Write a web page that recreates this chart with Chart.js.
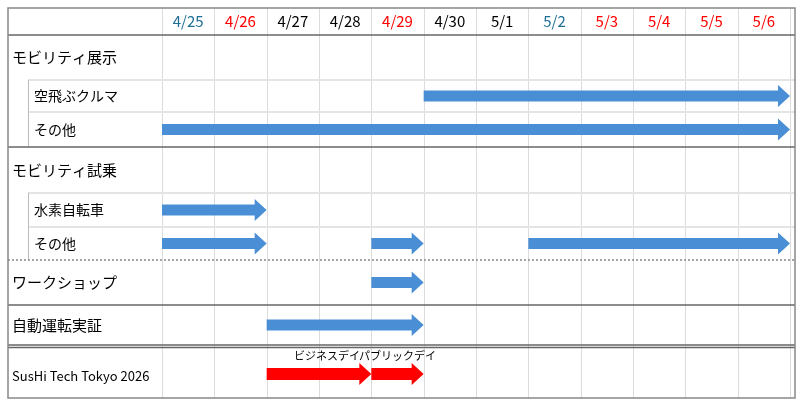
<!DOCTYPE html><html><head><meta charset="utf-8">
<script src="https://cdn.jsdelivr.net/npm/chart.js@4"></script>
<style>html,body{margin:0;background:#fff}</style></head><body>
<canvas id="c" width="800" height="407"></canvas>
<script>
const days=['4/25','4/26','4/27','4/28','4/29','4/30','5/1','5/2','5/3','5/4','5/5','5/6'];
const dayColors=['#1F6E96','#FF0000','#000','#000','#FF0000','#000','#000','#1F6E96','#FF0000','#FF0000','#FF0000','#FF0000'];
const rows=['モビリティ展示','空飛ぶクルマ','その他','モビリティ試乗','水素自転車','その他','ワークショップ','自動運転実証','SusHi Tech Tokyo 2026'];
const rowSub=[false,true,true,false,true,true,false,false,false];
// tasks: [rowIndex, startDay, endDay]
const blueTasks=[[1,5,12],[2,0,12],[4,0,2],[5,0,2],[5,4,5],[5,7,12],[6,4,5],[7,2,5]];
const redTasks=[[8,2,4,'ビジネスデイ'],[8,4,5,'パブリックデイ']];
// row boundaries in y units (0 = top of grid)
const rowEdges=[0,45,77,112,158,192,225,270,310,363];
const FONT='"Noto Sans CJK JP","Noto Sans",sans-serif';
function arrow(ctx,x1,x2,y,body,head,hl,color){
  ctx.fillStyle=color;ctx.beginPath();
  ctx.moveTo(x1,y-body/2);ctx.lineTo(x2-hl,y-body/2);ctx.lineTo(x2-hl,y-head/2);ctx.lineTo(x2,y);
  ctx.lineTo(x2-hl,y+head/2);ctx.lineTo(x2-hl,y+body/2);ctx.lineTo(x1,y+body/2);ctx.closePath();ctx.fill();
}
const gantt={id:'gantt',afterDraw(ch){
  const ctx=ch.ctx,xs=ch.scales.x,ys=ch.scales.y;
  const X=v=>xs.getPixelForValue(v),Y=v=>ys.getPixelForValue(v);
  const L=8,R=795,T=8,B=Y(363);
  ctx.save();
  // vertical day lines
  ctx.strokeStyle='#dcdcdc';ctx.lineWidth=1;
  for(let i=0;i<=12;i++){const x=Math.round(X(i))+0.5;ctx.beginPath();ctx.moveTo(x,T);ctx.lineTo(x,B);ctx.stroke();}
  // header
  ctx.font='15px '+FONT;ctx.textAlign='center';ctx.textBaseline='middle';
  days.forEach((d,i)=>{ctx.fillStyle=dayColors[i];ctx.fillText(d,X(i+0.5),21);});
  // row labels and light lines
  for(let r=0;r<rows.length;r++){
    const yc=(Y(rowEdges[r])+Y(rowEdges[r+1]))/2;
    ctx.fillStyle='#000';ctx.textAlign='left';
    ctx.font=(r===8?'13px ':rowSub[r]?'14px ':'15px ')+FONT;
    ctx.fillText(rows[r],rowSub[r]?34:12,yc+(r===8?5:0));
  }
  ctx.strokeStyle='#e4e4e4';ctx.lineWidth=2;
  [1,2,4,5].forEach(r=>{const y=Y(rowEdges[r]);ctx.beginPath();ctx.moveTo(28,y);ctx.lineTo(R,y);ctx.stroke();});
  ctx.strokeStyle='#bbb';ctx.lineWidth=1;
  [[1,3],[4,6]].forEach(([a,b])=>{ctx.beginPath();ctx.moveTo(28.5,Y(rowEdges[a]));ctx.lineTo(28.5,Y(rowEdges[b]));ctx.stroke();});
  // dark separators
  ctx.strokeStyle='#666';ctx.lineWidth=1.5;
  [0,3,7,8].forEach(r=>{const y=Y(rowEdges[r]);ctx.beginPath();ctx.moveTo(L,y);ctx.lineTo(R,y);ctx.stroke();});
  ctx.beginPath();ctx.moveTo(L,Y(rowEdges[8])+2.5);ctx.lineTo(R,Y(rowEdges[8])+2.5);ctx.stroke();
  ctx.setLineDash([2,2]);ctx.strokeStyle='#888';
  ctx.beginPath();ctx.moveTo(L,Y(rowEdges[6]));ctx.lineTo(R,Y(rowEdges[6]));ctx.stroke();ctx.setLineDash([]);
  ctx.strokeStyle='#888';ctx.lineWidth=1.5;ctx.strokeRect(L,T,R-L,B-T);
  // arrows
  blueTasks.forEach(([r,s,e])=>{const yc=(Y(rowEdges[r])+Y(rowEdges[r+1]))/2+(r===1||r===2||r===4||r===5?0:0);
    arrow(ctx,X(s),X(e),yc,11,22,12,'#4A8FD6');});
  redTasks.forEach(([r,s,e,lab])=>{const yc=Y(rowEdges[r])+29;
    arrow(ctx,X(s),X(e),yc,12,22,12,'#FF0000');
    ctx.fillStyle='#000';ctx.font='11px '+FONT;ctx.textAlign='center';ctx.fillText(lab,(X(s)+X(e))/2+(s===2?8:0),yc-18);});
  ctx.restore();
}};
new Chart(document.getElementById('c'),{type:'scatter',data:{datasets:[{data:[]}]},
 options:{responsive:false,animation:false,layout:{padding:{left:162,right:10,top:35,bottom:9}},
  plugins:{legend:{display:false},tooltip:{enabled:false}},
  scales:{x:{type:'linear',min:0,max:12,display:false},y:{type:'linear',min:0,max:363,reverse:true,display:false}}},
 plugins:[gantt]});
</script></body></html>
